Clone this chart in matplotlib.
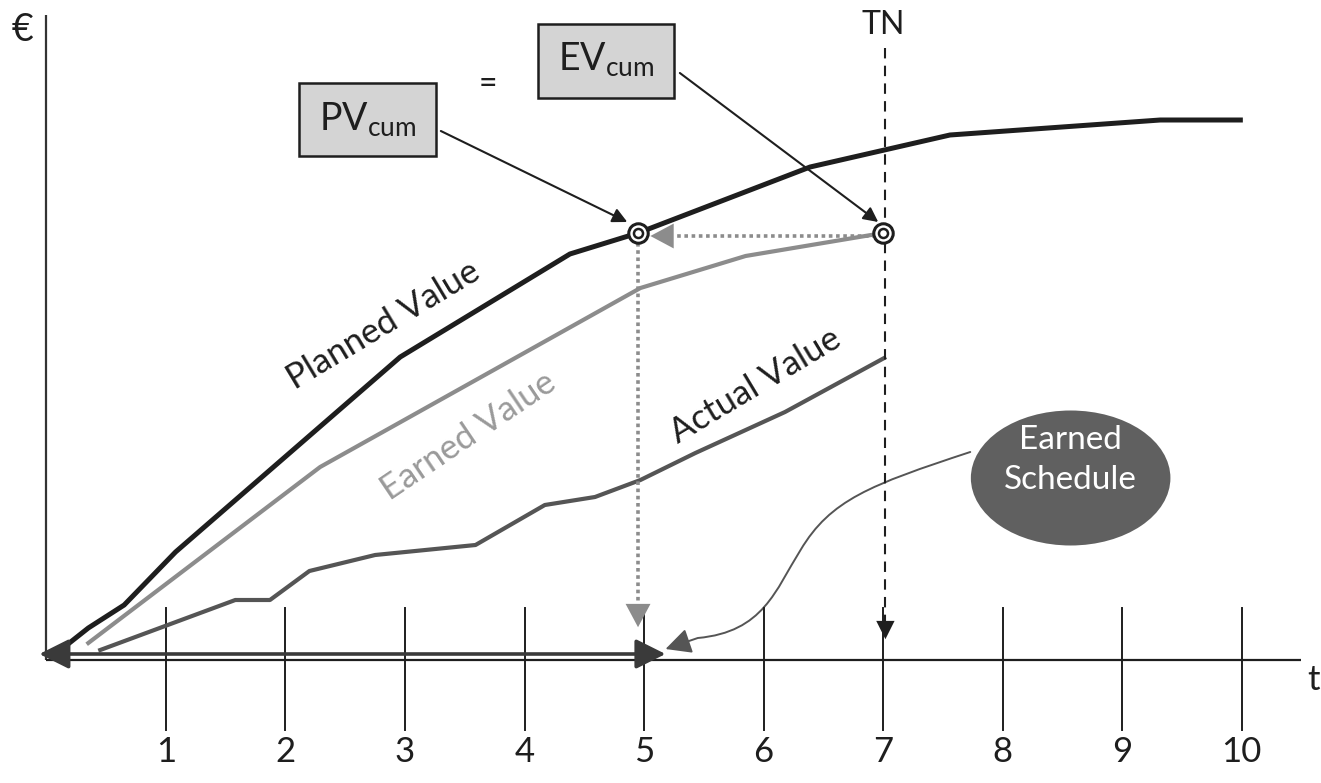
import matplotlib.pyplot as plt
import numpy as np
from matplotlib.patches import Ellipse, Rectangle, FancyArrowPatch
from matplotlib.path import Path

plt.rcParams['font.family'] = ['Lato', 'DejaVu Sans']
plt.rcParams['mathtext.fontset'] = 'custom'
plt.rcParams['mathtext.rm'] = 'Lato'

# time periods and cumulative value curves (value in arbitrary € units)
periods = list(range(1, 11))

pv_t = [0.17, 0.35, 0.65, 1.08, 2.96, 4.38, 4.95, 6.39, 7.56, 9.32, 9.99]
pv_v = [0.15, 0.32, 0.55, 1.08, 3.03, 4.06, 4.27, 4.93, 5.25, 5.40, 5.40]

ev_t = [0.35, 2.29, 4.97, 5.85, 7.0]
ev_v = [0.17, 1.93, 3.72, 4.04, 4.27]

ac_t = [0.45, 1.58, 1.87, 2.20, 2.75, 3.59, 4.17, 4.59, 4.97, 5.43, 6.18, 7.01]
ac_v = [0.10, 0.60, 0.60, 0.89, 1.05, 1.15, 1.55, 1.63, 1.80, 2.07, 2.48, 3.02]

es_t = 4.95      # earned schedule (time where PV equals current EV)
tn = 7.02        # time now
ev_now = 4.27

fig = plt.figure(figsize=(13.21, 7.83), dpi=100)
ax = fig.add_axes([0, 0, 1, 1])
ax.set_xlim(-0.389, 10.665)
ax.set_ylim(-1.23, 6.60)
ax.axis('off')

dark = '#1e1e1e'
grey = '#8c8c8c'
mid = '#555555'

big_head = '-|>,head_length=0.6,head_width=0.32'

# axes
ax.plot([0, 0], [0, 6.45], color='#333333', lw=1.6, solid_capstyle='butt')
ax.plot([0, 10.5], [0, 0], color=dark, lw=1.6, solid_capstyle='butt')
for p in periods:
    ax.plot([p, p], [0.52, -0.70], color=dark, lw=1.4)
    ax.text(p, -0.92, str(p), ha='center', va='center', fontsize=25, color=dark)
ax.text(-0.20, 6.30, '€', ha='center', va='center', fontsize=27, color=dark)
ax.text(10.6, -0.20, 't', ha='center', va='center', fontsize=25, color=dark)

# curves
ax.plot(pv_t, pv_v, color=dark, lw=3.6, solid_joinstyle='miter')
ax.plot(ev_t, ev_v, color=grey, lw=3.0)
ax.plot(ac_t, ac_v, color=mid, lw=3.0)

ax.text(2.82, 3.35, 'Planned Value', rotation=31, ha='center', va='center',
        rotation_mode='anchor', fontsize=25, color=dark)
ax.text(3.53, 2.24, 'Earned Value', rotation=34, ha='center', va='center',
        rotation_mode='anchor', fontsize=25, color='#9a9a9a')
ax.text(5.93, 2.74, 'Actual Value', rotation=31, ha='center', va='center',
        rotation_mode='anchor', fontsize=25, color=dark)

# time now
ax.plot([tn, tn], [6.12, 0.32], color=dark, lw=1.5, dashes=(5, 3.5))
ax.annotate('', xy=(tn, 0.18), xytext=(tn, 0.42),
            arrowprops=dict(arrowstyle='-|>,head_length=0.6,head_width=0.3',
                            mutation_scale=22, color=dark, lw=0))
ax.text(tn - 0.02, 6.35, 'TN', ha='center', va='center', fontsize=23, color=dark)

# EV projected back onto PV, then down to the time axis
ax.plot([7.0, 5.25], [ev_now - 0.03] * 2, color=grey, lw=2.6, dashes=(1, 1))
ax.annotate('', xy=(5.03, ev_now - 0.03), xytext=(5.35, ev_now - 0.03),
            arrowprops=dict(arrowstyle=big_head, mutation_scale=28, color=grey, lw=0))
ax.plot([es_t, es_t], [ev_now - 0.1, 0.55], color=grey, lw=2.6, dashes=(1, 1))
ax.annotate('', xy=(es_t, 0.30), xytext=(es_t, 0.62),
            arrowprops=dict(arrowstyle=big_head, mutation_scale=28, color=grey, lw=0))

# double-arrow showing the earned schedule span
ax.annotate('', xy=(-0.06, 0.06), xytext=(5.18, 0.06),
            arrowprops=dict(arrowstyle='<|-|>,head_length=0.7,head_width=0.35',
                            mutation_scale=26, color='#3a3a3a',
                            lw=2.6, shrinkA=0, shrinkB=0))

# ringed markers
for x in (es_t, 7.0):
    ax.plot(x, ev_now, 'o', ms=14, mfc='white', mec=dark, mew=2.2, zorder=5)
    ax.plot(x, ev_now, 'o', ms=6.5, mfc='white', mec=dark, mew=1.8, zorder=6)

# PV / EV boxes
ax.add_patch(Rectangle((2.11, 5.04), 1.15, 0.73, fc='#d4d4d4', ec=dark, lw=1.8))
ax.text(2.685, 5.40, r'PV$_{\mathrm{cum}}$', ha='center', va='center', fontsize=27, color=dark)
ax.add_patch(Rectangle((4.11, 5.62), 1.14, 0.74, fc='#d4d4d4', ec=dark, lw=1.8))
ax.text(4.68, 6.00, r'EV$_{\mathrm{cum}}$', ha='center', va='center', fontsize=27, color=dark)
ax.text(3.69, 5.76, '=', ha='center', va='center', fontsize=23, color=dark)

ax.annotate('', xy=(4.86, 4.38), xytext=(3.30, 5.29),
            arrowprops=dict(arrowstyle='-|>', mutation_scale=22, color=dark, lw=1.5,
                            shrinkA=0, shrinkB=0))
ax.annotate('', xy=(6.96, 4.38), xytext=(5.30, 5.87),
            arrowprops=dict(arrowstyle='-|>', mutation_scale=22, color=dark, lw=1.5,
                            shrinkA=0, shrinkB=0))

# Earned Schedule bubble and its connector
ax.add_patch(Ellipse((8.57, 1.82), 1.67, 1.35, fc='#606060', ec='none'))
ax.text(8.57, 2.00, 'Earned\nSchedule', ha='center', va='center', fontsize=24,
        color='white', linespacing=1.4)

verts = [(7.73, 2.08), (6.89, 1.75), (6.56, 1.60), (6.31, 1.10),
         (6.10, 0.70), (6.00, 0.28), (5.45, 0.22), (5.18, 0.11)]
codes = [Path.MOVETO, Path.CURVE4, Path.CURVE4, Path.CURVE4,
         Path.CURVE4, Path.CURVE4, Path.CURVE4, Path.LINETO]
ax.add_patch(FancyArrowPatch(path=Path(verts, codes),
                             arrowstyle='-|>,head_length=0.6,head_width=0.3',
                             mutation_scale=26, color=mid, lw=1.4))

fig.savefig('out.png', dpi=100)
